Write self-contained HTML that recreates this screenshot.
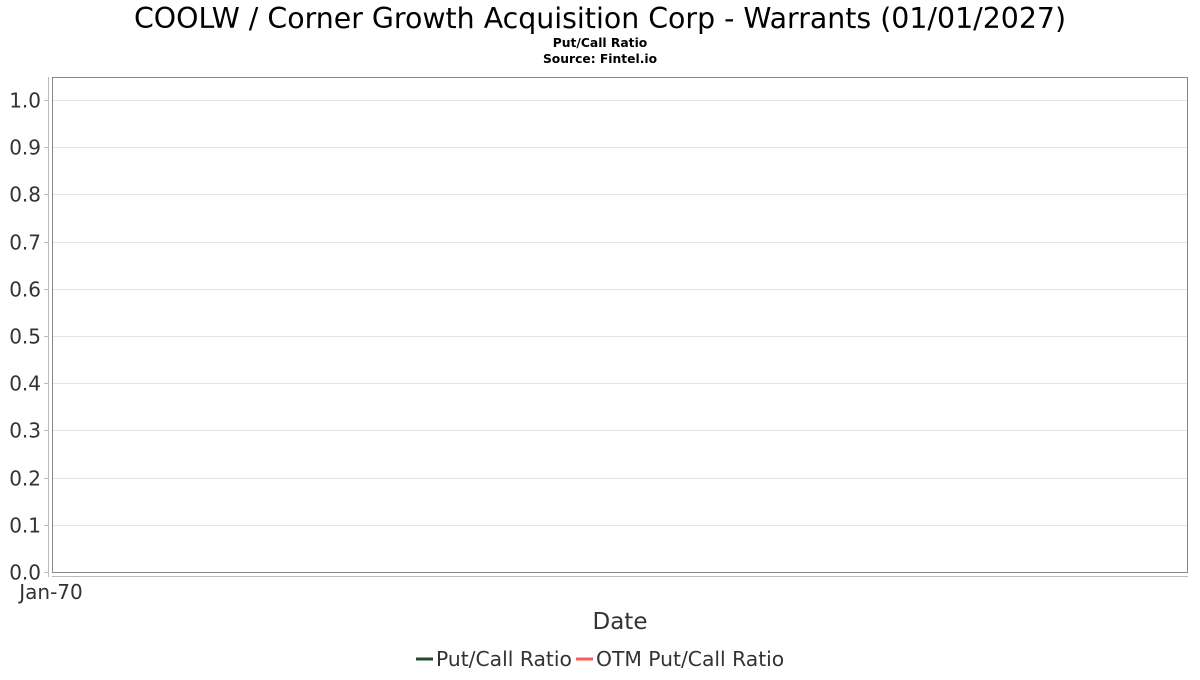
<!DOCTYPE html>
<html><head><meta charset="utf-8"><style>
body{margin:0;background:#fff;}
svg text{font-family:"DejaVu Sans","Liberation Sans",sans-serif;}
</style></head><body>
<svg width="1200" height="675" xmlns="http://www.w3.org/2000/svg">
<rect width="1200" height="675" fill="#fff"/>
<text x="600" y="28" text-anchor="middle" font-size="28.4" fill="#000">COOLW / Corner Growth Acquisition Corp - Warrants (01/01/2027)</text>
<text x="600" y="47" text-anchor="middle" font-size="12.3" font-weight="bold" fill="#000">Put/Call Ratio</text>
<text x="600" y="63" text-anchor="middle" font-size="12.3" font-weight="bold" fill="#000">Source: Fintel.io</text>
<g id="grid"></g>
<rect x="52.5" y="77.5" width="1135" height="495" fill="none" stroke="#888"/>
<line x1="48.5" y1="77" x2="48.5" y2="577" stroke="#bbb"/>
<line x1="52" y1="576.5" x2="1188" y2="576.5" stroke="#bbb"/>
<g id="yticks"></g>
<text x="51" y="599" text-anchor="middle" font-size="20" fill="#333">Jan-70</text>
<text x="620" y="629" text-anchor="middle" font-size="23" fill="#333">Date</text>
<g>
<line x1="416" y1="659" x2="433" y2="659" stroke="#1d4d2b" stroke-width="3"/>
<text x="436" y="666" font-size="20.3" fill="#333">Put/Call Ratio</text>
<line x1="576" y1="659" x2="593" y2="659" stroke="#f85c5c" stroke-width="3"/>
<text x="596" y="666" font-size="20.3" fill="#333">OTM Put/Call Ratio</text>
</g>
</svg>
<script>
const yTicks=[0,0.1,0.2,0.3,0.4,0.5,0.6,0.7,0.8,0.9,1.0];
const yTickLabels=["0.0","0.1","0.2","0.3","0.4","0.5","0.6","0.7","0.8","0.9","1.0"];
const putCall=[];
const otmPutCall=[];
const NS="http://www.w3.org/2000/svg";
function yScale(v){return 572-v*472;}
const grid=document.getElementById('grid'),yt=document.getElementById('yticks');
yTicks.forEach((v,i)=>{
  const y=Math.round(yScale(v))+0.5;
  if(v>0){
    const l=document.createElementNS(NS,'line');
    l.setAttribute('x1',53);l.setAttribute('x2',1187);l.setAttribute('y1',y);l.setAttribute('y2',y);
    l.setAttribute('stroke','#e4e4e4');
    
    
    grid.appendChild(l);
  }
  const tk=document.createElementNS(NS,'line');
  tk.setAttribute('x1',44);tk.setAttribute('x2',48);tk.setAttribute('y1',y);tk.setAttribute('y2',y);
  tk.setAttribute('stroke','#bbb');
  
  
  yt.appendChild(tk);
  const t=document.createElementNS(NS,'text');
  t.setAttribute('x',41);t.setAttribute('y',y+7);t.setAttribute('text-anchor','end');
  t.setAttribute('font-size','20');t.setAttribute('fill','#333');
  t.textContent=yTickLabels[i];
  
  
  yt.appendChild(t);
});
</script>
</body></html>
